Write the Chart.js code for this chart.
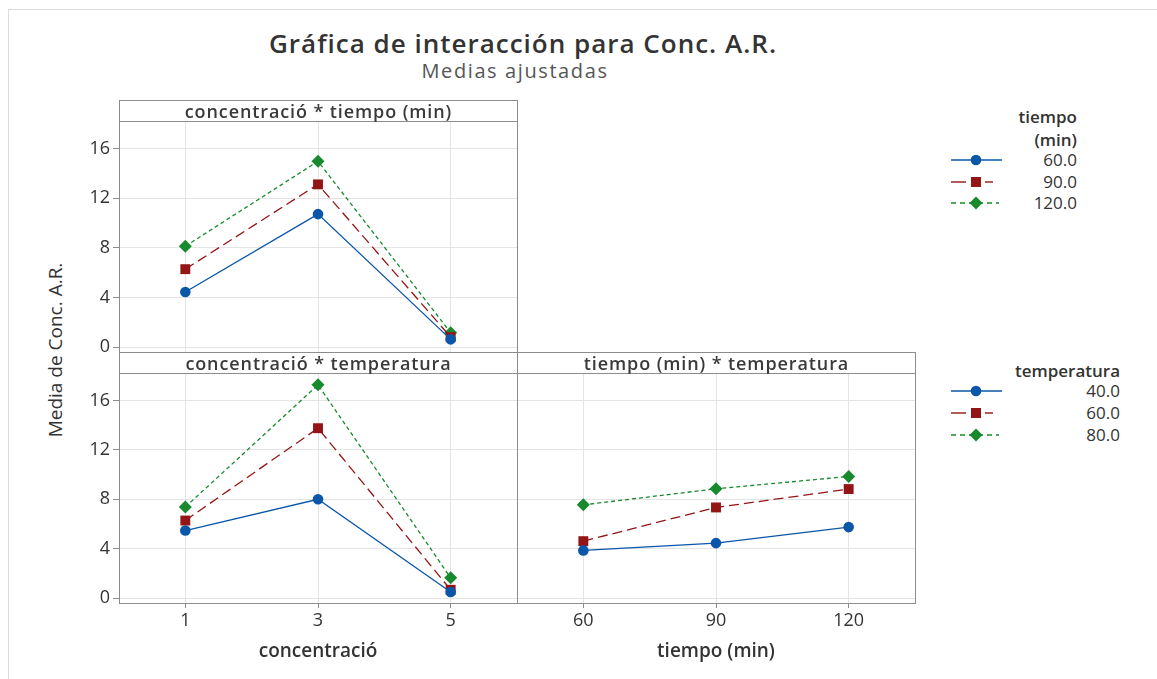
<!DOCTYPE html>
<html>
<head>
<meta charset="utf-8">
<title>Gráfica de interacción para Conc. A.R.</title>
<script src="https://cdn.jsdelivr.net/npm/chart.js@4.4.1/dist/chart.umd.min.js"></script>
<style>
    body { margin: 0; width: 1157px; height: 679px; background: #fff; position: relative; overflow: hidden;
           font-family: 'Open Sans', 'Noto Sans', sans-serif; color: #333; }
    canvas { position: absolute; }
    .line-h { position: absolute; height: 1px; background: #dcdcdc; }
    .line-v { position: absolute; width: 1px; background: #dcdcdc; }
    .frame { position: absolute; box-sizing: border-box; border: 1px solid #8c8c8c; pointer-events: none; }
    .strip { position: absolute; box-sizing: border-box; border: 1px solid #8c8c8c; text-align: center;
             font-weight: 600; font-size: 18px; letter-spacing: 0.9px; line-height: 20px; color: #3a3a3a; white-space: nowrap; }
    .txt { position: absolute; white-space: nowrap; }
    .leg-row { position: absolute; height: 22px; }
    .leg-row svg { position: absolute; left: 0; top: 4px; }
    .leg-row span { position: absolute; right: 0; top: 0; font-size: 17px; line-height: 22px; }
</style>
</head>
<body>

<div class="line-h" style="left:8px; top:9px; width:1149px;"></div>
<div class="line-v" style="left:8px; top:9px; height:670px;"></div>

<div class="txt" style="left:220px; width:606px; top:25px; text-align:center; font-size:26px; letter-spacing:1px; font-weight:600; color:#333;">Gráfica de interacción para Conc. A.R.</div>
<div class="txt" style="left:315px; width:400px; top:57px; text-align:center; font-size:20px; letter-spacing:1.6px; color:#555;">Medias ajustadas</div>

<div class="txt" style="left:55px; top:350px; font-size:19px; transform:translate(-50%, -50%) rotate(-90deg);">Media de Conc. A.R.</div>

<canvas id="cTiempo" width="520" height="256" style="left:0; top:100px;"></canvas>
<canvas id="cTemp" width="520" height="311" style="left:0; top:352px;"></canvas>
<canvas id="tTemp" width="400" height="311" style="left:517px; top:352px;"></canvas>

<div class="frame" style="left:119px; top:100px; width:399px; height:253px;"></div>
<div class="strip" style="left:119px; top:100px; width:399px; height:22px;">concentració * tiempo (min)</div>
<div class="frame" style="left:119px; top:352px; width:399px; height:252px;"></div>
<div class="strip" style="left:119px; top:352px; width:399px; height:22px;">concentració * temperatura</div>
<div class="frame" style="left:517px; top:352px; width:399px; height:252px;"></div>
<div class="strip" style="left:517px; top:352px; width:399px; height:22px;">tiempo (min) * temperatura</div>

<div id="legTiempo"></div>
<div id="legTemp"></div>

<script>
// niveles de los factores
const concLevels = [1, 3, 5];
const tiempoLevels = [60, 90, 120];
const yTicks = [0, 4, 8, 12, 16];

// concentració * tiempo (min): una serie por tiempo
const concTiempo60 = [4.44, 10.72, 0.62];
const concTiempo90 = [6.28, 13.12, 0.80];
const concTiempo120 = [8.13, 14.98, 1.16];

// concentració * temperatura
const concTemp40 = [5.47, 8.00, 0.49];
const concTemp60 = [6.28, 13.76, 0.67];
const concTemp80 = [7.37, 17.27, 1.64];

// tiempo (min) * temperatura
const tiempoTemp40 = [3.86, 4.45, 5.75];
const tiempoTemp60 = [4.61, 7.34, 8.83];
const tiempoTemp80 = [7.55, 8.85, 9.85];

const tiempoNames = ['60.0', '90.0', '120.0'];
const tempNames = ['40.0', '60.0', '80.0'];

const seriesStyle = [
    { color: '#0a56a8', dash: [], point: 'circle', radius: 5.3 },
    { color: '#931515', dash: [10, 5], point: 'rect', radius: 7 },
    { color: '#168a2c', dash: [4, 3], point: 'rectRot', radius: 6.5 }
];

const GRID = '#e4e4e4';
const TICK = '#8c8c8c';

function buildDatasets(xVals, seriesList, names) {
    return seriesList.map((vals, i) => {
        const st = seriesStyle[i];
        return {
            label: names[i],
            data: xVals.map((x, j) => ({ x: x, y: vals[j] })),
            borderColor: st.color,
            backgroundColor: st.color,
            borderWidth: 1.3,
            borderDash: st.dash,
            pointStyle: st.point,
            pointRadius: st.radius,
            pointBorderWidth: 0,
            tension: 0
        };
    });
}

function paintPanel(id, xVals, xRange, seriesList, names, opt) {
    const canvas = document.getElementById(id);
    return new Chart(canvas, {
        type: 'line',
        data: { datasets: buildDatasets(xVals, seriesList, names) },
        options: {
            responsive: false,
            animation: false,
            events: [],
            layout: { padding: opt.padding, autoPadding: false },
            plugins: { legend: { display: false }, tooltip: { enabled: false } },
            scales: {
                x: {
                    type: 'linear',
                    min: xRange[0],
                    max: xRange[1],
                    afterBuildTicks: s => { s.ticks = xVals.map(v => ({ value: v })); },
                    afterFit: s => { s.height = opt.xHeight; s.paddingLeft = 0; s.paddingRight = 0; },
                    border: { display: false },
                    grid: { color: GRID, tickColor: TICK, tickLength: 5, drawTicks: !!opt.xTitle },
                    ticks: { display: !!opt.xTitle, color: '#333', font: { family: 'Open Sans', size: 18 }, padding: 2 },
                    title: {
                        display: !!opt.xTitle,
                        text: opt.xTitle || '',
                        color: '#333',
                        font: { family: 'Open Sans', size: 19, weight: '600' },
                        padding: { top: 8, bottom: 0 }
                    }
                },
                y: {
                    min: -0.4,
                    max: 18.15,
                    afterBuildTicks: s => { s.ticks = yTicks.map(v => ({ value: v })); },
                    afterFit: s => { s.width = opt.yWidth; s.paddingTop = 0; s.paddingBottom = 0; },
                    border: { display: false },
                    grid: { color: GRID, tickColor: TICK, tickLength: 6, drawTicks: opt.yWidth > 0 },
                    ticks: { display: opt.yWidth > 0, color: '#333', font: { family: 'Open Sans', size: 18 }, padding: 3 }
                }
            }
        }
    });
}

paintPanel('cTiempo', concLevels, [0, 6], [concTiempo60, concTiempo90, concTiempo120], tiempoNames,
    { padding: { left: 0, right: 3, top: 22, bottom: 4 }, xHeight: 0, yWidth: 119 });
paintPanel('cTemp', concLevels, [0, 6], [concTemp40, concTemp60, concTemp80], tempNames,
    { padding: { left: 0, right: 3, top: 22, bottom: 0 }, xHeight: 60, yWidth: 119, xTitle: 'concentració' });
paintPanel('tTemp', tiempoLevels, [45, 135], [tiempoTemp40, tiempoTemp60, tiempoTemp80], tempNames,
    { padding: { left: 0, right: 2, top: 22, bottom: 0 }, xHeight: 60, yWidth: 0, xTitle: 'tiempo (min)' });

// leyendas
function symbolSvg(st) {
    const c = st.color;
    let marker, line;
    if (st.point === 'circle') {
        marker = `<circle cx="25" cy="7" r="5.3" fill="${c}"/>`;
        line = `<line x1="0" y1="7" x2="51" y2="7" stroke="${c}" stroke-width="1.4"/>`;
    } else if (st.point === 'rect') {
        marker = `<rect x="20" y="2" width="10" height="10" fill="${c}"/>`;
        line = `<line x1="0" y1="7" x2="15" y2="7" stroke="${c}" stroke-width="1.4"/>` +
               `<line x1="34" y1="7" x2="42" y2="7" stroke="${c}" stroke-width="1.4"/>`;
    } else {
        marker = `<polygon points="25,0.5 31.5,7 25,13.5 18.5,7" fill="${c}"/>`;
        line = `<line x1="0" y1="7" x2="48" y2="7" stroke="${c}" stroke-width="1.4" stroke-dasharray="5,4"/>`;
    }
    return `<svg width="54" height="14">${line}${marker}</svg>`;
}

function buildLegend(id, titleLines, names, left, right, top, rowTops) {
    const el = document.getElementById(id);
    let html = '';
    titleLines.forEach((t, i) => {
        html += `<div class="txt" style="right:${1157 - right}px; top:${top + i * 23}px; font-size:17px; font-weight:600;">${t}</div>`;
    });
    names.forEach((n, i) => {
        html += `<div class="leg-row" style="left:${left}px; width:${right - left}px; top:${rowTops[i]}px;">${symbolSvg(seriesStyle[i])}<span>${n}</span></div>`;
    });
    el.innerHTML = html;
}

buildLegend('legTiempo', ['tiempo', '(min)'], tiempoNames, 951, 1077, 105, [149, 171, 192]);
buildLegend('legTemp', ['temperatura'], tempNames, 951, 1120, 359, [380, 402, 424]);
</script>
</body>
</html>
